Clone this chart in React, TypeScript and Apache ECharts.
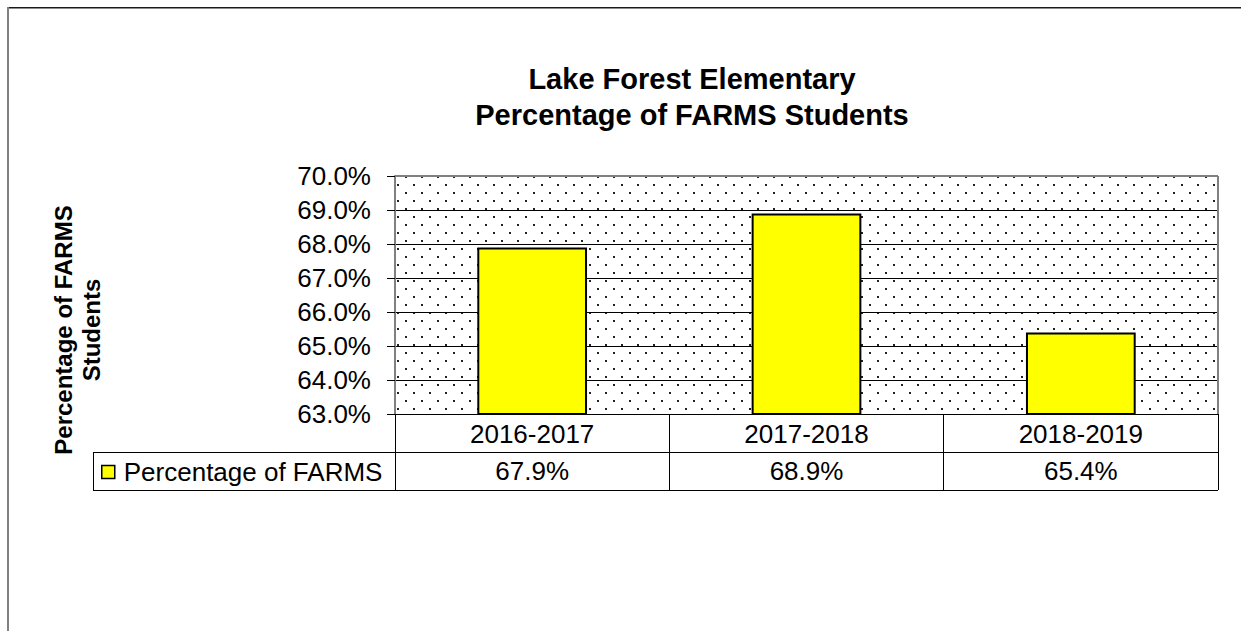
import React, { useEffect, useRef } from "react";
import * as echarts from "echarts";

const categories = ["2016-2017", "2017-2018", "2018-2019"];
const values = [67.9, 68.9, 65.4];
const valueLabels = ["67.9%", "68.9%", "65.4%"];
const seriesName = "Percentage of FARMS";
const titleLines = ["Lake Forest Elementary", "Percentage of FARMS Students"];
const yAxisTitle = ["Percentage of FARMS", "Students"];
const yMin = 63;
const yMax = 70;
const yStep = 1;

const FONT = "'Liberation Sans', Arial, Helvetica, sans-serif";

// layout (chart coordinates)
const G_LEFT = 388;
const G_TOP = 169;
const G_W = 823;
const G_H = 238;
const ROW1 = 38;
const ROW2 = 38;
const LEG_LEFT = 86;

function makePattern(): HTMLCanvasElement {
  const c = document.createElement("canvas");
  c.width = 16;
  c.height = 16;
  const ctx = c.getContext("2d")!;
  ctx.fillStyle = "#ffffff";
  ctx.fillRect(0, 0, 16, 16);
  ctx.fillStyle = "#222222";
  ctx.fillRect(6, 1, 2, 2);
  ctx.fillRect(14, 9, 2, 2);
  return c;
}

export default function App() {
  const ref = useRef<HTMLDivElement>(null);
  useEffect(() => {
    if (!ref.current) return;
    const chart = echarts.init(ref.current, undefined, { renderer: "svg" });
    const bottom = G_TOP + G_H;
    const right = G_LEFT + G_W;
    chart.setOption({
      animation: false,
      backgroundColor: "#ffffff",
      textStyle: { fontFamily: FONT },
      grid: {
        left: G_LEFT,
        top: G_TOP,
        width: G_W,
        height: G_H,
        containLabel: false,
      },
      legend: {
        show: true,
        left: LEG_LEFT + 8,
        top: bottom + ROW1 + ROW2 / 2 - 12,
        icon: "rect",
        itemWidth: 13,
        itemHeight: 13,
        itemGap: 8,
        padding: 0,
        itemStyle: { color: "#ffff00", borderColor: "#000", borderWidth: 1.5 },
        textStyle: { fontSize: 26, color: "#000", fontFamily: FONT, padding: [0, 0, 0, 4] },
        data: [seriesName],
      },
      xAxis: [
        {
          type: "category",
          data: categories,
          position: "bottom",
          axisLine: { show: true, lineStyle: { color: "#000", width: 1 } },
          axisTick: { show: true, length: ROW1 + ROW2, lineStyle: { color: "#000", width: 1 } },
          axisLabel: { fontSize: 26, color: "#000", margin: 7, fontFamily: FONT },
          splitLine: { show: false },
        },
        {
          type: "category",
          data: valueLabels,
          position: "bottom",
          offset: ROW1,
          axisLine: { show: false },
          axisTick: { show: false },
          axisLabel: { fontSize: 26, color: "#000", margin: 6, fontFamily: FONT },
          splitLine: { show: false },
        },
      ],
      yAxis: {
        type: "value",
        min: yMin,
        max: yMax,
        interval: yStep,
        axisLine: { show: true, lineStyle: { color: "#808080", width: 2 } },
        axisTick: { show: true, length: 8, lineStyle: { color: "#000" } },
        axisLabel: {
          fontSize: 26,
          color: "#000",
          margin: 24,
          fontFamily: FONT,
          formatter: (v: number) => v.toFixed(1) + "%",
        },
        splitLine: { show: true, lineStyle: { color: "#000", width: 1 } },
      },
      series: [
        {
          name: seriesName,
          type: "bar",
          data: values,
          barWidth: "40%",
          itemStyle: { color: "#ffff00", borderColor: "#000", borderWidth: 2 },
          z: 3,
        },
      ],
      graphic: {
        elements: [
          {
            type: "rect",
            z: -10,
            silent: true,
            shape: { x: G_LEFT, y: G_TOP, width: G_W, height: G_H },
            style: { fill: { image: makePattern(), repeat: "repeat" } as any },
          },
          {
            type: "line",
            z: 10,
            silent: true,
            shape: { x1: G_LEFT, y1: G_TOP, x2: right, y2: G_TOP },
            style: { stroke: "#808080", lineWidth: 2 },
          },
          {
            type: "line",
            z: 10,
            silent: true,
            shape: { x1: right, y1: G_TOP, x2: right, y2: bottom },
            style: { stroke: "#808080", lineWidth: 2 },
          },
          // data table lines
          {
            type: "line",
            silent: true,
            shape: { x1: LEG_LEFT, y1: bottom + ROW1 + 0.5, x2: right, y2: bottom + ROW1 + 0.5 },
            style: { stroke: "#000", lineWidth: 1 },
          },
          {
            type: "line",
            silent: true,
            shape: { x1: LEG_LEFT, y1: bottom + ROW1 + ROW2 + 0.5, x2: right, y2: bottom + ROW1 + ROW2 + 0.5 },
            style: { stroke: "#000", lineWidth: 1 },
          },
          {
            type: "line",
            silent: true,
            shape: { x1: LEG_LEFT + 0.5, y1: bottom + ROW1, x2: LEG_LEFT + 0.5, y2: bottom + ROW1 + ROW2 },
            style: { stroke: "#000", lineWidth: 1 },
          },
          // outer chart border
          {
            type: "line",
            silent: true,
            shape: { x1: 0, y1: 0.75, x2: 1234, y2: 0.75 },
            style: { stroke: "#1a1a1a", lineWidth: 1.5 },
          },
          {
            type: "line",
            silent: true,
            shape: { x1: 1, y1: 0, x2: 1, y2: 624 },
            style: { stroke: "#808080", lineWidth: 2 },
          },
          // title
          {
            type: "text",
            silent: true,
            x: 685,
            y: 72,
            style: {
              text: titleLines[0],
              fontSize: 29,
              fontWeight: "bold",
              fontFamily: FONT,
              fill: "#000",
              align: "center",
              verticalAlign: "middle",
            },
          },
          {
            type: "text",
            silent: true,
            x: 685,
            y: 108,
            style: {
              text: titleLines[1],
              fontSize: 29,
              fontWeight: "bold",
              fontFamily: FONT,
              fill: "#000",
              align: "center",
              verticalAlign: "middle",
            },
          },
          // y axis title
          {
            type: "text",
            silent: true,
            x: 70,
            y: 323,
            rotation: Math.PI / 2,
            style: {
              text: yAxisTitle.join("\n"),
              fontSize: 24,
              fontWeight: "bold",
              fontFamily: FONT,
              fill: "#000",
              align: "center",
              verticalAlign: "middle",
              lineHeight: 28,
            },
          },
        ],
      },
    });
    return () => chart.dispose();
  }, []);
  return (
    <div
      ref={ref}
      style={{ position: "absolute", left: 7, top: 7, width: 1234, height: 624 }}
    />
  );
}
